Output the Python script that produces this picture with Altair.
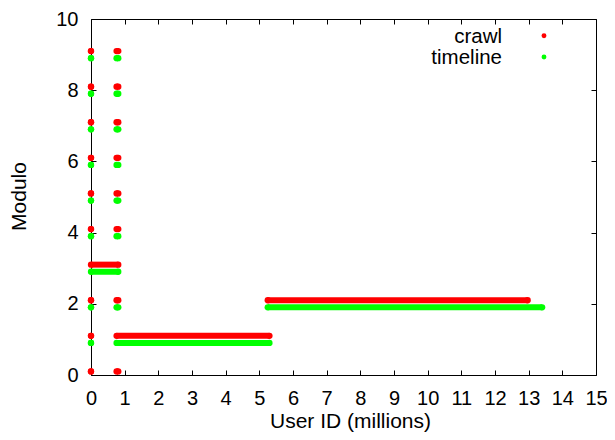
import altair as alt
import pandas as pd

# ---- data ----
series_names = ["crawl", "timeline"]
series_colors = ["#ff0000", "#00ff00"]

x_ticks = list(range(0, 16))
y_ticks = [0, 2, 4, 6, 8, 10]

# runs of points: start / end of each run (User ID, millions) and plotted Modulo value
crawl_start = [0, 0, 0, 0, 0, 0, 0, 0, 0,
               0,
               0.76, 0.76, 0.76, 0.76, 0.76, 0.76, 0.76, 0.76,
               0.76, 5.25]
crawl_end = [0, 0, 0, 0, 0, 0, 0, 0, 0,
             0.81,
             0.81, 0.81, 0.81, 0.81, 0.81, 0.81, 0.81, 0.81,
             5.30, 12.97]
crawl_value = [0.1, 1.1, 2.1, 4.1, 5.1, 6.1, 7.1, 8.1, 9.1,
               3.1,
               0.1, 2.1, 4.1, 5.1, 6.1, 7.1, 8.1, 9.1,
               1.1, 2.1]

timeline_start = [0, 0, 0, 0, 0, 0, 0, 0,
                  0,
                  0.76, 0.76, 0.76, 0.76, 0.76, 0.76, 0.76,
                  0.76, 5.25]
timeline_end = [0, 0, 0, 0, 0, 0, 0, 0,
                0.81,
                0.81, 0.81, 0.81, 0.81, 0.81, 0.81, 0.81,
                5.30, 13.40]
timeline_value = [0.9, 1.9, 3.9, 4.9, 5.9, 6.9, 7.9, 8.9,
                  2.9,
                  1.9, 3.9, 4.9, 5.9, 6.9, 7.9, 8.9,
                  0.9, 1.9]

df = pd.concat([
    pd.DataFrame({"series": "crawl", "start": crawl_start, "end": crawl_end, "value": crawl_value}),
    pd.DataFrame({"series": "timeline", "start": timeline_start, "end": timeline_end, "value": timeline_value}),
], ignore_index=True)

FONT = "Liberation Sans"
W, H = 505, 356

x_scale = alt.Scale(domain=[0, 15], nice=False, zero=False)
y_scale = alt.Scale(domain=[0, 10], nice=False, zero=False)
color = alt.Color("series:N", scale=alt.Scale(domain=series_names, range=series_colors), legend=None)

common = dict(domain=False, grid=False, tickSize=5, offset=-5, tickColor="black", tickWidth=1,
              labelFont=FONT, labelFontSize=20, labelColor="black", titleFont=FONT,
              titleFontSize=21, titleFontWeight="normal", titleColor="black")

bottom_axis = alt.Axis(values=x_ticks, labelPadding=13, title="User ID (millions)",
                       titleX=259, titleY=57, titleBaseline="alphabetic", titleAlign="center",
                       labelFlush=False, labelOverlap=False, **common)
left_axis = alt.Axis(values=y_ticks, labelPadding=13, title="Modulo",
                     titleX=-71, titleY=177, titleBaseline="alphabetic", titleAlign="center",
                     titleAngle=270, labelFlush=False, labelOverlap=False, **common)
top_axis = alt.Axis(values=x_ticks, orient="top", labels=False, title="", **common)
right_axis = alt.Axis(values=y_ticks, orient="right", labels=False, title="", **common)

base = alt.Chart(df)

rules = base.mark_rule(strokeWidth=6).encode(
    x=alt.X("start:Q", scale=x_scale, axis=bottom_axis),
    x2="end:Q",
    y=alt.Y("value:Q", scale=y_scale, axis=left_axis),
    color=color,
)
starts = base.mark_circle(size=40, opacity=1).encode(
    x=alt.X("start:Q", scale=x_scale, axis=top_axis),
    y=alt.Y("value:Q", scale=y_scale, axis=right_axis),
    color=color,
)
ends = base.mark_circle(size=40, opacity=1).encode(
    x=alt.X("end:Q", scale=x_scale, axis=None),
    y=alt.Y("value:Q", scale=y_scale, axis=None),
    color=color,
)

legend_layers = []
for i, (name, col) in enumerate(zip(series_names, series_colors)):
    ldf = pd.DataFrame({"series": [name]})
    legend_layers.append(
        alt.Chart(ldf).mark_text(align="right", baseline="alphabetic", font=FONT,
                                 fontSize=20.5, color="black").encode(
            x=alt.value(411), y=alt.value(24.3 + 21 * i), text="series:N")
    )
    legend_layers.append(
        alt.Chart(ldf).mark_circle(size=24, opacity=1, color=col).encode(
            x=alt.value(453), y=alt.value(16.7 + 21.3 * i))
    )

chart = alt.layer(rules, starts, ends, *legend_layers).resolve_axis(
    x="independent", y="independent"
).properties(
    width=W, height=H,
    padding={"left": 83, "top": 11, "right": 11, "bottom": 57},
    autosize=alt.AutoSizeParams(type="none"),
    background="white",
).configure_view(stroke="black", strokeWidth=1)

chart.save("out.html", embed_options={"renderer": "svg", "actions": False})
